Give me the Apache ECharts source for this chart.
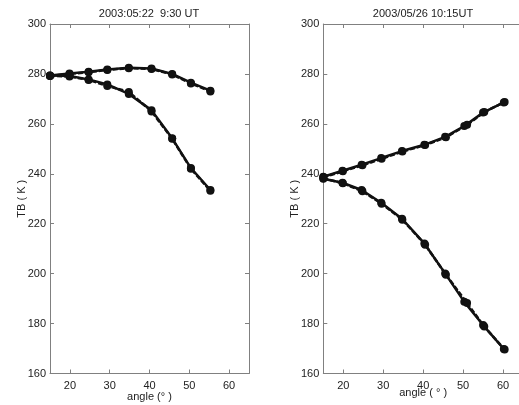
<!DOCTYPE html>
<html>
<head>
<meta charset="utf-8">
<script src="https://cdn.jsdelivr.net/npm/echarts@6/dist/echarts.min.js"></script>
<style>
  html, body { margin: 0; padding: 0; background: #fff; }
  #chart { width: 519px; height: 405px; }
</style>
</head>
<body>
<div id="chart"></div>
<script>
// Brightness temperature vs. incidence angle, two observation times
const titles = ['2003:05:22  9:30 UT', '2003/05/26 10:15UT'];
const xTicks = [20, 30, 40, 50, 60];
const yTicks = [160, 180, 200, 220, 240, 260, 280, 300];

// 2003-05-22 panel
const leftAngles = [15, 19.9, 24.7, 29.4, 34.8, 40.5, 45.7, 50.4, 55.3];
const leftUpperSolid = [279.4, 280.2, 280.9, 281.8, 282.5, 282.2, 280.0, 276.5, 273.3];
const leftUpperDashed = [279.2, 280.0, 280.7, 281.6, 282.3, 282.0, 279.8, 276.2, 273.0];
const leftLowerSolid = [279.4, 279.2, 277.8, 275.8, 272.0, 265.5, 254.2, 242.3, 233.5];
const leftLowerDashed = [279.2, 279.0, 277.6, 275.2, 272.8, 265.0, 254.0, 242.0, 233.2];

// 2003-05-26 panel
const rightAngles = [15, 19.8, 24.6, 29.5, 34.7, 40.3, 45.5, 50.3, 55.0, 60.2];
const rightAngles2 = [15, 19.9, 24.8, 29.6, 34.8, 40.5, 45.7, 51.0, 55.3, 60.4];
const rightUpper = [238.8, 241.2, 243.6, 246.3, 249.1, 251.6, 254.8, 259.1, 264.5, 268.6];
const rightUpper2 = [238.6, 241.0, 243.4, 246.0, 248.9, 251.5, 254.6, 259.6, 264.7, 268.8];
const rightLower = [238.0, 236.4, 233.5, 228.4, 222.0, 212.1, 200.1, 188.7, 179.4, 169.8];
const rightLower2 = [238.2, 236.2, 233.0, 228.0, 221.6, 211.6, 199.6, 188.2, 178.8, 169.6];

const pairs = (xs, ys) => xs.map((x, i) => [x, ys[i]]);

const FONT = 'Liberation Sans';
const AXIS_GRAY = '#808080';
const TEXT = '#222';

function bottomX(gridIndex) {
  return {
    type: 'value', gridIndex, position: 'bottom', min: 15, max: 65,
    axisLine: { show: true, onZero: false, lineStyle: { color: AXIS_GRAY, width: 1 } },
    axisTick: { show: true, inside: true, length: 4, customValues: xTicks, lineStyle: { color: AXIS_GRAY } },
    axisLabel: { show: true, customValues: xTicks, color: TEXT, fontFamily: FONT, fontSize: 11, margin: 7 },
    splitLine: { show: false },
    name: gridIndex === 0 ? 'angle (° )' : 'angle ( ° )',
    nameLocation: 'middle', nameGap: gridIndex === 0 ? 18 : 14, nameMoveOverlap: false,
    nameTextStyle: { color: TEXT, fontFamily: FONT, fontSize: 11 }
  };
}
function topX(gridIndex) {
  return {
    type: 'value', gridIndex, position: 'top', min: 15, max: 65,
    axisLine: { show: true, onZero: false, lineStyle: { color: AXIS_GRAY, width: 1 } },
    axisTick: { show: true, inside: true, length: 4, customValues: xTicks, lineStyle: { color: AXIS_GRAY } },
    axisLabel: { show: false }, splitLine: { show: false }
  };
}
function leftY(gridIndex) {
  return {
    type: 'value', gridIndex, position: 'left', min: yTicks[0], max: yTicks[yTicks.length - 1], interval: 20,
    axisLine: { show: true, onZero: false, lineStyle: { color: AXIS_GRAY, width: 1 } },
    axisTick: { show: true, inside: true, length: 4, lineStyle: { color: AXIS_GRAY } },
    axisLabel: { show: true, color: TEXT, fontFamily: FONT, fontSize: 11, margin: 4 },
    splitLine: { show: false },
    name: 'TB ( K )', nameLocation: 'middle', nameGap: 23, nameRotate: 90, nameMoveOverlap: false,
    nameTextStyle: { color: TEXT, fontFamily: FONT, fontSize: 11 }
  };
}
function rightY(gridIndex) {
  return {
    type: 'value', gridIndex, position: 'right', min: yTicks[0], max: yTicks[yTicks.length - 1], interval: 20,
    axisLine: { show: true, onZero: false, lineStyle: { color: AXIS_GRAY, width: 1 } },
    axisTick: { show: true, inside: true, length: 4, lineStyle: { color: AXIS_GRAY } },
    axisLabel: { show: false }, splitLine: { show: false }
  };
}

function line(xIdx, yIdx, data, dashed) {
  return {
    type: 'line', xAxisIndex: xIdx, yAxisIndex: yIdx, data,
    symbol: 'circle', symbolSize: 8, showSymbol: true,
    itemStyle: { color: '#111' },
    lineStyle: { color: '#111', width: 2.5, type: dashed ? [5, 2] : 'solid' },
    animation: false, silent: true, z: dashed ? 3 : 2
  };
}

const chart = echarts.init(document.getElementById('chart'), null, { renderer: 'canvas' });
chart.setOption({
  backgroundColor: '#fff',
  animation: false,
  title: [
    { text: titles[0], left: 149, top: 8, padding: 0, textAlign: 'center',
      textStyle: { color: TEXT, fontFamily: FONT, fontSize: 11, fontWeight: 'normal' } },
    { text: titles[1], left: 423, top: 8, padding: 0, textAlign: 'center',
      textStyle: { color: TEXT, fontFamily: FONT, fontSize: 11, fontWeight: 'normal' } }
  ],
  grid: [
    { left: 50, top: 24, width: 199, height: 349.5, containLabel: false, outerBoundsMode: 'none' },
    { left: 323.3, top: 24, width: 199.7, height: 349.5, containLabel: false, outerBoundsMode: 'none' }
  ],
  xAxis: [bottomX(0), topX(0), bottomX(1), topX(1)],
  yAxis: [leftY(0), rightY(0), leftY(1), rightY(1)],
  series: [
    line(0, 0, pairs(leftAngles, leftUpperSolid), false),
    line(0, 0, pairs(leftAngles, leftUpperDashed), true),
    line(0, 0, pairs(leftAngles, leftLowerSolid), false),
    line(0, 0, pairs(leftAngles, leftLowerDashed), true),
    line(2, 2, pairs(rightAngles, rightUpper), false),
    line(2, 2, pairs(rightAngles2, rightUpper2), true),
    line(2, 2, pairs(rightAngles, rightLower), false),
    line(2, 2, pairs(rightAngles2, rightLower2), true)
  ]
});
</script>
</body>
</html>
